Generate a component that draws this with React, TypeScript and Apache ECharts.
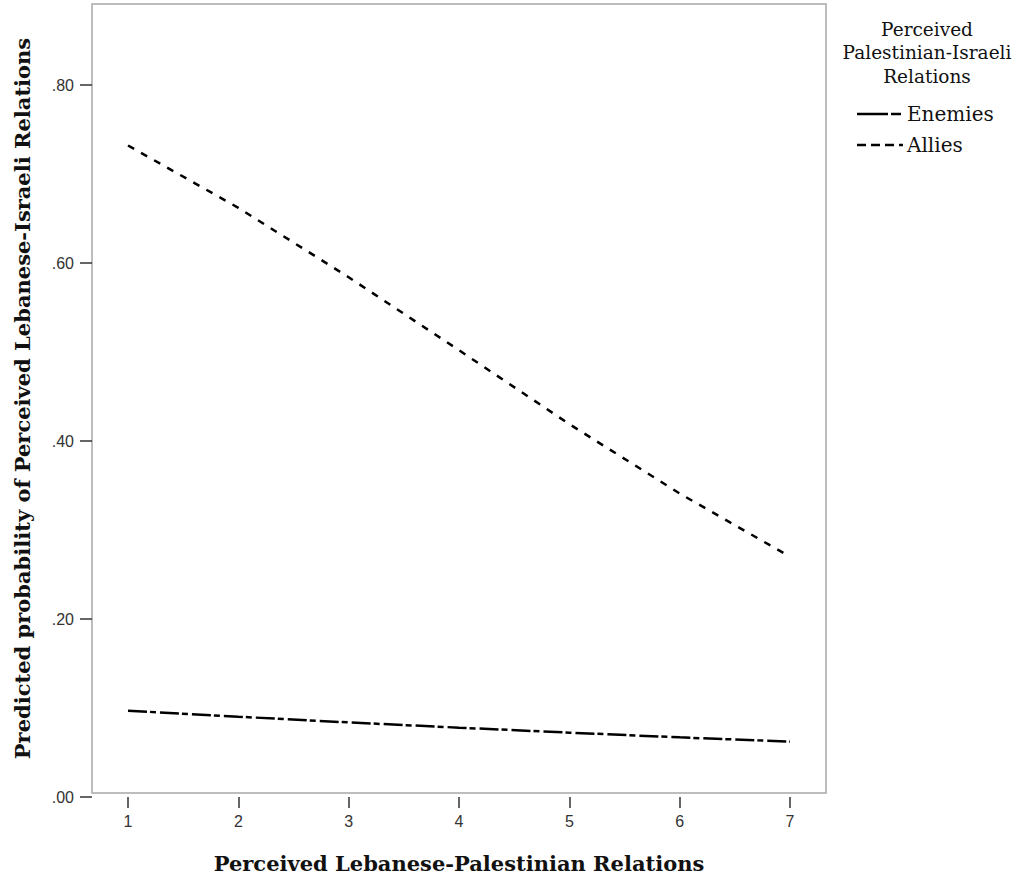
import React, { useEffect, useRef } from "react";
import * as echarts from "echarts";

const xValues = [1, 2, 3, 4, 5, 6, 7];
const enemies = [0.097, 0.0902, 0.0838, 0.0779, 0.0723, 0.067, 0.0622];
const allies = [0.732, 0.662, 0.584, 0.502, 0.419, 0.341, 0.27];
const legendTitle = ["Perceived", "Palestinian-Israeli", "Relations"];
const seriesNames = ["Enemies", "Allies"];
const xTitle = "Perceived Lebanese-Palestinian Relations";
const yTitle = "Predicted probability of Perceived Lebanese-Israeli Relations";

export default function App() {
  const ref = useRef<HTMLDivElement>(null);
  useEffect(() => {
    if (!ref.current) return;
    const chart = echarts.init(ref.current, undefined, { renderer: "svg" });
    const serifTitle = "DejaVu Serif";
    const legendFont = "DejaVu Serif";
    const enemiesDash = [19, 3, 6, 4];
    const alliesDash = [7, 8];
    const legendTitleY = [29, 52, 76];
    const labelStyle = { fontFamily: "Liberation Sans", fontSize: 16, color: "#333" };
    const titleStyle = { fontFamily: serifTitle, fontWeight: "bold", fontSize: 21, color: "#111" };
    chart.setOption({
      animation: false,
      backgroundColor: "#ffffff",
      grid: [
        // data grid: x from 1 to 7, y from 0 to .80
        { left: 128, top: 85, width: 662, height: 712, show: false },
        // frame grid: the full plot box
        {
          left: 92,
          top: 4,
          width: 734,
          height: 793,
          show: true,
          borderColor: "#a8a8a8",
          borderWidth: 1.5,
          backgroundColor: "transparent",
        },
      ],
      xAxis: [
        {
          type: "value",
          gridIndex: 0,
          min: 1,
          max: 7,
          interval: 1,
          splitLine: { show: false },
          axisLine: { show: false, onZero: false },
          axisTick: { show: true, length: 11, lineStyle: { color: "#333", width: 1.5 } },
          axisLabel: { margin: 16, ...labelStyle },
        },
        {
          type: "value",
          gridIndex: 1,
          min: 0,
          max: 1,
          name: xTitle,
          nameLocation: "middle",
          nameGap: 60,
          nameTextStyle: titleStyle,
          axisLine: { show: false },
          axisTick: { show: false },
          axisLabel: { show: false },
          splitLine: { show: false },
        },
      ],
      yAxis: [
        {
          type: "value",
          gridIndex: 0,
          min: 0,
          max: 0.8,
          interval: 0.2,
          offset: 36,
          splitLine: { show: false },
          axisLine: { show: false, onZero: false },
          axisTick: { show: true, length: 12, lineStyle: { color: "#333", width: 1.5 } },
          axisLabel: {
            margin: 18,
            ...labelStyle,
            formatter: (v: number) => v.toFixed(2).replace(/^0/, ""),
          },
        },
        {
          type: "value",
          gridIndex: 1,
          min: 0,
          max: 1,
          name: yTitle,
          nameLocation: "middle",
          nameGap: 59,
          nameTextStyle: titleStyle,
          axisLine: { show: false },
          axisTick: { show: false },
          axisLabel: { show: false },
          splitLine: { show: false },
        },
      ],
      series: [
        {
          name: seriesNames[0],
          type: "line",
          xAxisIndex: 0,
          yAxisIndex: 0,
          symbol: "none",
          clip: false,
          data: xValues.map((x, i) => [x, enemies[i]]),
          lineStyle: { color: "#000", width: 2.5, type: enemiesDash },
        },
        {
          name: seriesNames[1],
          type: "line",
          xAxisIndex: 0,
          yAxisIndex: 0,
          symbol: "none",
          clip: false,
          data: xValues.map((x, i) => [x, allies[i]]),
          lineStyle: { color: "#000", width: 2.5, type: alliesDash },
        },
      ],
      graphic: [
        ...legendTitle.map((t, i) => ({
          type: "text",
          x: 927,
          y: legendTitleY[i],
          style: {
            text: t,
            fontFamily: legendFont,
            fontSize: 18.5,
            fill: "#111",
            textAlign: "center",
            textVerticalAlign: "middle",
          },
        })),
        {
          type: "line",
          shape: { x1: 857, y1: 114, x2: 902, y2: 114 },
          style: { stroke: "#000", lineWidth: 2.5, lineDash: [31, 3, 10, 3] },
        },
        {
          type: "text",
          x: 907,
          y: 114,
          style: { text: seriesNames[0], fontFamily: legendFont, fontSize: 20, fill: "#111", textVerticalAlign: "middle" },
        },
        {
          type: "line",
          shape: { x1: 857, y1: 145, x2: 903, y2: 145 },
          style: { stroke: "#000", lineWidth: 2.5, lineDash: [9, 5] },
        },
        {
          type: "text",
          x: 907,
          y: 145,
          style: { text: seriesNames[1], fontFamily: legendFont, fontSize: 20, fill: "#111", textVerticalAlign: "middle" },
        },
      ],
    });
    return () => chart.dispose();
  }, []);
  return (
    <div
      ref={ref}
      style={{ position: "fixed", left: 0, top: 0, width: 1021, height: 879, background: "#fff" }}
    />
  );
}
